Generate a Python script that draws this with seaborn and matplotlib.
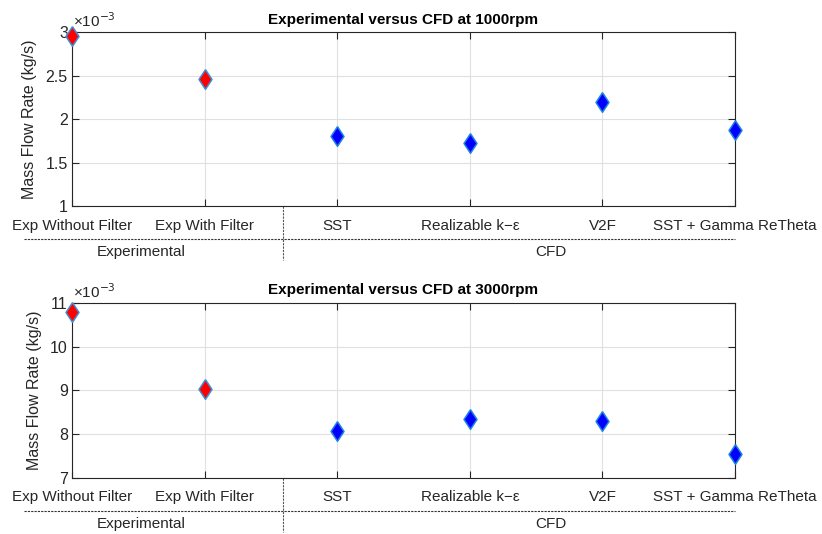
import matplotlib
matplotlib.use("Agg")
import matplotlib.pyplot as plt
import matplotlib.transforms as mtransforms
from matplotlib.ticker import FuncFormatter, FixedLocator
import seaborn as sns
import pandas as pd

categories = ["Exp Without Filter", "Exp With Filter", "SST",
              "Realizable k\u2212\u03b5", "V2F", "SST + Gamma ReTheta"]
groups = ["Experimental", "Experimental", "CFD", "CFD", "CFD", "CFD"]
flow_1000 = [2.96e-3, 2.46e-3, 1.81e-3, 1.725e-3, 2.195e-3, 1.87e-3]
flow_3000 = [10.79e-3, 9.02e-3, 8.08e-3, 8.34e-3, 8.29e-3, 7.54e-3]
titles = ["Experimental versus CFD at 1000rpm", "Experimental versus CFD at 3000rpm"]
ylims = [(1e-3, 3e-3), (7e-3, 11e-3)]
yticks = [[1e-3, 1.5e-3, 2e-3, 2.5e-3, 3e-3], [7e-3, 8e-3, 9e-3, 10e-3, 11e-3]]

sns.set_style("white")
plt.rcParams["font.family"] = ["Liberation Sans", "DejaVu Sans"]

fig = plt.figure(figsize=(8.22, 5.34), dpi=100)
axes = [fig.add_axes([0.0876, 0.614, 0.8066, 0.326]),
        fig.add_axes([0.0876, 0.105, 0.8066, 0.328])]

fills = {"Experimental": "#ff0000", "CFD": "#0000ff"}
edges = {"Experimental": "#3d8fd6", "CFD": "#1f86e0"}
tc = "#262626"
diamond = [(0, 1), (0.66, 0), (0, -1), (-0.66, 0), (0, 1)]

for ax, vals, title, yl, yt in zip(axes, [flow_1000, flow_3000], titles, ylims, yticks):
    df = pd.DataFrame({"x": list(range(len(categories))), "y": vals, "g": groups})
    for g in ["Experimental", "CFD"]:
        sub = df[df["g"] == g]
        sns.scatterplot(data=sub, x="x", y="y", ax=ax, marker=diamond, s=200,
                        color=fills[g], edgecolor=edges[g], linewidth=1.1,
                        clip_on=False, zorder=5, legend=False)
    ax.set_xlim(0, len(categories) - 1)
    ax.set_ylim(*yl)
    ax.xaxis.set_major_locator(FixedLocator(range(len(categories))))
    ax.set_xticklabels(categories, fontsize=11, color=tc)
    ax.yaxis.set_major_locator(FixedLocator(yt))
    ax.yaxis.set_major_formatter(FuncFormatter(lambda v, p: f"{v*1e3:g}"))
    ax.tick_params(axis="y", labelsize=11.5, colors=tc, direction="in", length=5,
                   right=True, left=True, width=0.8, pad=3)
    ax.tick_params(axis="x", direction="in", length=5, top=True, bottom=True,
                   width=0.8, colors=tc, pad=9)
    for lab in ax.get_xticklabels() + ax.get_yticklabels():
        lab.set_color(tc)
    ax.grid(True, color="#e0e0e0", linewidth=0.8)
    ax.set_axisbelow(True)
    for sp in ax.spines.values():
        sp.set_color("#262626")
        sp.set_linewidth(0.8)
        sp.set_visible(True)
    ax.set_xlabel("")
    ax.set_ylabel("Mass Flow Rate (kg/s)", fontsize=11.5, color=tc, labelpad=6)
    ax.set_title(title, fontsize=11, fontweight="bold", color="black", pad=6)
    ax.text(0.002, 1.012, "\u00d710$^{-3}$", transform=ax.transAxes, fontsize=11,
            color=tc, ha="left", va="bottom")

    h = ax.get_position().height * fig.get_figheight() * 72
    trans = mtransforms.blended_transform_factory(ax.transData, ax.transAxes)
    f = lambda px: -px / (h / 0.72)
    ax.plot([-0.36, 5.0], [f(33), f(33)], transform=trans, clip_on=False,
            color="#333333", linestyle=(0, (2, 1)), linewidth=0.8)
    ax.plot([1.59, 1.59], [0, f(54)], transform=trans, clip_on=False,
            color="#555555", linestyle=(0, (2, 1)), linewidth=0.8)
    ax.text(0.52, f(46), "Experimental", transform=trans, ha="center", va="center",
            fontsize=11, color=tc)
    ax.text(3.61, f(46), "CFD", transform=trans, ha="center", va="center",
            fontsize=11, color=tc)

fig.savefig("out.png", dpi=100, facecolor="white")
